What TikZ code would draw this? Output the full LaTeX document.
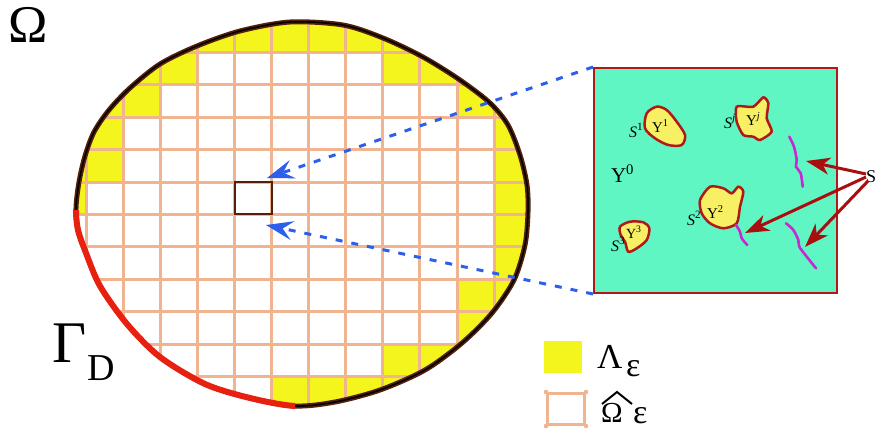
\documentclass[tikz,border=0pt]{standalone}
\usepackage{fontspec}
\setmainfont{Liberation Serif}
\usetikzlibrary{arrows.meta}
\definecolor{yel}{RGB}{245,245,30}
\definecolor{gridc}{RGB}{240,180,145}
\definecolor{outl}{RGB}{85,32,10}
\definecolor{redG}{RGB}{232,32,15}
\definecolor{blueD}{RGB}{45,95,235}
\definecolor{mint}{RGB}{95,246,196}
\definecolor{boxred}{RGB}{175,25,25}
\definecolor{blobY}{RGB}{248,240,100}
\definecolor{mag}{RGB}{200,40,210}
\definecolor{arrred}{RGB}{170,15,15}
\tikzset{
  gridline/.style={draw=gridc, line width=3pt},
  bluedash/.style={draw=blueD, line width=3pt, dash pattern=on 7pt off 9pt,
     -{Stealth[length=27pt,width=19pt,inset=10pt,fill=blueD]}},
  redarrow/.style={draw=arrred, line width=3pt,
     -{Stealth[length=24pt,width=17pt,inset=7pt,fill=arrred]}},
  blob/.style={fill=blobY, draw=boxred, line width=2.5pt},
  magline/.style={draw=mag, line width=2.6pt, line cap=round},
  lbl/.style={anchor=base west, inner sep=0pt, outer sep=0pt},
}
\begin{document}
\begin{tikzpicture}[x=1pt,y=-1pt]
\useasboundingbox (0,0) rectangle (877,432);
% domain fill
\fill[yel] plot[smooth cycle] coordinates {(76,208) (79,182) (85,156) (94,132) (109,110) (130,88) (160,64) (197,46) (240,31) (290,22) (343,25) (383,38) (423,57) (460,80) (490,103) (508,125) (520,155) (527,185) (528,212) (525,245) (514,280) (492,313) (462,343) (425,370) (380,390) (335,402) (295,406) (250,398) (205,384) (160,357) (127,324) (100,286) (86,253) (78,230)};
\begin{scope}
\clip plot[smooth cycle] coordinates {(76,208) (79,182) (85,156) (94,132) (109,110) (130,88) (160,64) (197,46) (240,31) (290,22) (343,25) (383,38) (423,57) (460,80) (490,103) (508,125) (520,155) (527,185) (528,212) (525,245) (514,280) (492,313) (462,343) (425,370) (380,390) (335,402) (295,406) (250,398) (205,384) (160,357) (127,324) (100,286) (86,253) (78,230)};
\foreach \r/\a/\b in {1/3/7, 2/2/9, 3/1/10, 4/1/10, 5/0/10, 6/-1/10, 7/-1/10, 8/-1/9, 9/-1/9, 10/-1/7, 11/-1/4}
  \fill[white] ({86+37.1*(\a)},{20+32.4*(\r)}) rectangle ({86+37.1*(\b+1)},{20+32.4*(\r+1)});
\foreach \i in {-1,...,12}
  \draw[gridline] ({86+37.1*(\i)},0) -- ({86+37.1*(\i)},432);
\foreach \j in {0,...,12}
  \draw[gridline] (30,{20+32.4*(\j)}) -- (560,{20+32.4*(\j)});
\end{scope}
% boundary
\draw[outl, line width=5pt] plot[smooth cycle] coordinates {(76,208) (79,182) (85,156) (94,132) (109,110) (130,88) (160,64) (197,46) (240,31) (290,22) (343,25) (383,38) (423,57) (460,80) (490,103) (508,125) (520,155) (527,185) (528,212) (525,245) (514,280) (492,313) (462,343) (425,370) (380,390) (335,402) (295,406) (250,398) (205,384) (160,357) (127,324) (100,286) (86,253) (78,230)};
\draw[black, line width=1.6pt] plot[smooth cycle] coordinates {(76,208) (79,182) (85,156) (94,132) (109,110) (130,88) (160,64) (197,46) (240,31) (290,22) (343,25) (383,38) (423,57) (460,80) (490,103) (508,125) (520,155) (527,185) (528,212) (525,245) (514,280) (492,313) (462,343) (425,370) (380,390) (335,402) (295,406) (250,398) (205,384) (160,357) (127,324) (100,286) (86,253) (78,230)};
% Gamma_D : same curve, clipped to lower-left arc
\begin{scope}
\clip (0,210) -- (150,210) -- (295,380) -- (295,432) -- (0,432) -- cycle;
\draw[redG, line width=6pt] plot[smooth cycle] coordinates {(76,208) (79,182) (85,156) (94,132) (109,110) (130,88) (160,64) (197,46) (240,31) (290,22) (343,25) (383,38) (423,57) (460,80) (490,103) (508,125) (520,155) (527,185) (528,212) (525,245) (514,280) (492,313) (462,343) (425,370) (380,390) (335,402) (295,406) (250,398) (205,384) (160,357) (127,324) (100,286) (86,253) (78,230)};
\end{scope}
% zoom square
\node (sq) [draw=outl, line width=2pt, minimum width=37pt, minimum height=32pt, inner sep=0pt] at (253,198.2) {};
% inset
\node (inset) [draw=boxred, fill=mint, line width=2pt, minimum width=243pt, minimum height=225pt, anchor=north west, inner sep=0pt] at (593,67) {};
\coordinate (tA) at (267,178);
\coordinate (tB) at (266,225);
\draw[bluedash] (inset.north west) -- (tA);
\draw[bluedash] (inset.south west) -- (tB);
% blobs
\path[blob] plot[smooth cycle] coordinates {(646.7,113.3) (656.7,106.7) (666.7,110) (676.7,121.7) (685,135) (681.7,145) (668.3,145) (655,138.3) (645,128.3)};
\path[blob] plot[smooth cycle, tension=0.4] coordinates {(736.7,106.7) (753.3,106.7) (763.3,97.3) (768.3,103.3) (766.7,118.3) (771.7,131.7) (760,140) (753.3,136.7) (743.3,135) (736.7,121.7)};
\path[blob] plot[smooth cycle, tension=0.45] coordinates {(700,200) (710,186.7) (723.3,188.3) (731.7,193.3) (738.3,186.7) (743.3,191.7) (740,206.7) (736.7,223.3) (723.3,228.3) (710,223.3) (701.7,213.3)};
\path[blob] plot[smooth cycle] coordinates {(620,226.7) (630,221.7) (643.3,222.3) (649.3,228.3) (646.7,240) (636.7,248.3) (628.3,251.7) (625,241.7) (620.7,235)};
% magenta cracks
\draw[magline] plot[smooth] coordinates {(789.3,136.7) (794,146.7) (796.7,160) (796,166.7) (800.7,173.3) (802.7,186.7)};
\draw[magline] plot[smooth] coordinates {(736,225) (740,231.7) (741.7,238.3) (747.3,245)};
\draw[magline] plot[smooth] coordinates {(786,223.3) (793.3,230) (798.3,240) (799.3,246.7) (806.7,256.7) (816,268.3)};
% inset labels
\node (y0) [lbl, font=\fontsize{21}{21}\selectfont] at (611,182) {Y\textsuperscript{0}};
\node (y1) [lbl, font=\fontsize{15}{15}\selectfont] at (652,132) {Y\textsuperscript{1}};
\node (s1) [lbl, font=\fontsize{16}{16}\selectfont] at (629,137) {\textit{S}\textsuperscript{1}};
\node (yj) [lbl, font=\fontsize{15}{15}\selectfont] at (746,125) {Y\textsuperscript{\textit{j}}};
\node (sj) [lbl, font=\fontsize{16}{16}\selectfont] at (724,128) {\textit{S}\textsuperscript{\textit{j}}};
\node (y2) [lbl, font=\fontsize{15}{15}\selectfont] at (707,218) {Y\textsuperscript{2}};
\node (s2) [lbl, font=\fontsize{16}{16}\selectfont] at (687,225) {\textit{S}\textsuperscript{2}};
\node (y3) [lbl, font=\fontsize{14}{14}\selectfont] at (626,238) {Y\textsuperscript{3}};
\node (s3) [lbl, font=\fontsize{16}{16}\selectfont] at (611,251) {\textit{S}\textsuperscript{3}};
% S and arrows
\node (S) [anchor=west, inner sep=0pt, font=\fontsize{18}{18}\selectfont] at (866,177) {S};
\coordinate (t1) at (806,161);
\coordinate (t2) at (745,233);
\coordinate (t3) at (805,247);
\draw[redarrow] ([yshift=3pt]S.west) -- (t1);
\draw[redarrow] (S.west) -- (t2);
\draw[redarrow] ([yshift=-4pt,xshift=2pt]S.west) -- (t3);
% labels
\node (om) [lbl, font=\fontsize{53}{53}\selectfont] at (9,42) {Ω};
\node (gam) [lbl, font=\fontsize{59}{59}\selectfont] at (52,362) {Γ};
\node (gamD) [lbl, font=\fontsize{38}{38}\selectfont] at (87,380) {D};
% legend
\node (lgY) [fill=yel, minimum width=38pt, minimum height=32pt, anchor=north west, inner sep=0pt] at (544,341) {};
\node (lgO) [draw=gridc, line width=3pt, minimum width=37pt, minimum height=31pt, anchor=north west, inner sep=0pt] at (546,392) {};
\foreach \c in {north west, north east, south west, south east}
  \fill[gridc] (lgO.\c) circle (2.3pt);
\node (lam) [lbl, font=\fontsize{35}{35}\selectfont] at (597,368) {Λ};
\node (lamE) [lbl, font=\fontsize{34}{34}\selectfont] at (626,376) {ε};
\node (omh) [lbl, font=\fontsize{29}{29}\selectfont] at (601,422) {Ω};
\draw[black, line width=2pt, line join=miter] (602,404) -- (617,392) -- (632,404);
\node (omhE) [lbl, font=\fontsize{34}{34}\selectfont] at (633,423) {ε};
\end{tikzpicture}
\end{document}
